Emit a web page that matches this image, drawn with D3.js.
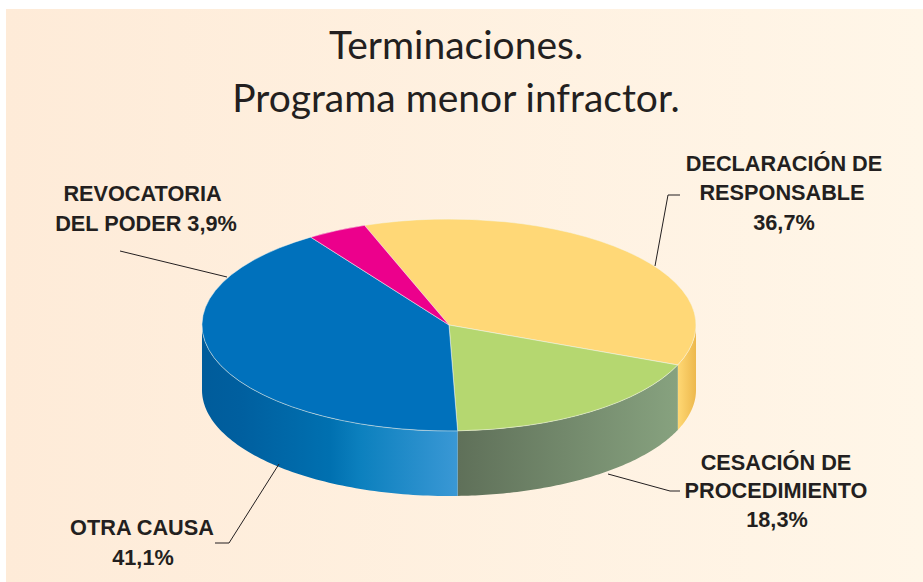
<!DOCTYPE html>
<html>
<head>
<meta charset="utf-8">
<script src="https://cdn.jsdelivr.net/npm/d3@7/dist/d3.min.js"></script>
<style>
html,body{margin:0;padding:0;background:#fff}
svg{display:block}
</style>
</head>
<body>
<script>
const categories = ["DECLARACIÓN DE RESPONSABLE", "CESACIÓN DE PROCEDIMIENTO", "OTRA CAUSA", "REVOCATORIA DEL PODER"];
const values = [36.7, 18.3, 41.1, 3.9];
const topColors = ["#FFD877", "#B5D770", "#0071BC", "#EC008C"];
const wallStops = [
  [["0%", "#FFD874"], ["100%", "#EDB84C"]],
  [["0%", "#5F7059"], ["100%", "#87A27F"]],
  [["0%", "#005C9B"], ["15%", "#005F9F"], ["50%", "#0070B0"], ["62%", "#0C80BE"], ["100%", "#3A98D5"]],
  [["0%", "#EC008C"], ["100%", "#EC008C"]]
];
const titleLines = ["Terminaciones.", "Programa menor infractor."];
const labels = [
  {lines: ["DECLARACIÓN DE", "RESPONSABLE", "36,7%"], x: [784, 782, 784], y: [171, 200, 230]},
  {lines: ["CESACIÓN DE", "PROCEDIMIENTO", "18,3%"], x: [776, 776, 777], y: [470, 498, 527]},
  {lines: ["OTRA CAUSA", "41,1%"], x: [142, 143], y: [535, 565]},
  {lines: ["REVOCATORIA", "DEL PODER 3,9%"], x: [142.5, 146], y: [201, 231]}
];
const leaders = [
  [[655, 266], [668, 195], [680, 195]],
  [[608, 474], [670, 491], [680, 491]],
  [[279, 464], [229, 543], [215, 543]],
  [[227, 277], [120, 251]]
];

const W = 923, H = 582;
const cx = 449, cy = 325, rx = 247, ry = 106, depth = 65;
const startDeg = 340;

const svg = d3.select("body").append("svg").attr("width", W).attr("height", H);
const defs = svg.append("defs");

const bg = defs.append("linearGradient").attr("id", "bg");
bg.append("stop").attr("offset", "0%").attr("stop-color", "#FEEBD8");
bg.append("stop").attr("offset", "100%").attr("stop-color", "#FFF6E8");
svg.append("rect").attr("x", 6).attr("y", 9).attr("width", W - 6).attr("height", H - 9).attr("fill", "url(#bg)");

const pie = d3.pie().sort(null).value(d => d)
  .startAngle(startDeg * Math.PI / 180)
  .endAngle((startDeg + 360) * Math.PI / 180);
const arcs = pie(values);

const px = a => cx + rx * Math.sin(a);
const py = a => cy - ry * Math.cos(a);
const HALF = Math.PI / 2;

function visibleRanges(a0, a1) {
  const out = [];
  for (const k of [-1, 0, 1]) {
    const lo = HALF + k * 2 * Math.PI, hi = 3 * HALF + k * 2 * Math.PI;
    const s = Math.max(a0, lo), e = Math.min(a1, hi);
    if (e > s) out.push([s, e]);
  }
  return out;
}

const walls = svg.append("g");
arcs.forEach((d, i) => {
  visibleRanges(d.startAngle, d.endAngle).forEach((r, j) => {
    const [s, e] = r;
    const n = 80;
    const ang = d3.range(n + 1).map(t => s + (e - s) * t / n);
    const top = ang.map(a => [px(a), py(a)]);
    const bottom = ang.slice().reverse().map(a => [px(a), py(a) + depth]);
    const id = "wall" + i + "_" + j;
    const xs = top.map(p => p[0]);
    const g = defs.append("linearGradient").attr("id", id)
      .attr("gradientUnits", "userSpaceOnUse")
      .attr("x1", d3.min(xs)).attr("x2", d3.max(xs)).attr("y1", 0).attr("y2", 0);
    wallStops[i].forEach(st => g.append("stop").attr("offset", st[0]).attr("stop-color", st[1]));
    walls.append("path")
      .attr("d", d3.line()(top.concat(bottom)) + "Z")
      .attr("fill", `url(#${id})`);
  });
});

const arc = d3.arc().innerRadius(0).outerRadius(1);
svg.append("g")
  .attr("transform", `translate(${cx},${cy}) scale(${rx},${ry})`)
  .selectAll("path").data(arcs).join("path")
  .attr("d", arc)
  .attr("fill", (d, i) => topColors[i])
  .attr("stroke", "#F4F7EE")
  .attr("stroke-width", 0.5)
  .attr("vector-effect", "non-scaling-stroke");

svg.append("g").selectAll("path").data(leaders).join("path")
  .attr("d", d => d3.line()(d))
  .attr("fill", "none").attr("stroke", "#231F20").attr("stroke-width", 1);

svg.append("g").selectAll("text").data(titleLines).join("text")
  .attr("x", 456).attr("y", (d, i) => [59, 112][i])
  .attr("text-anchor", "middle")
  .attr("font-family", "Lato, sans-serif")
  .attr("font-size", 39)
  .attr("fill", "#231F20")
  .text(d => d);

const lab = svg.append("g")
  .attr("font-family", "'Liberation Sans', Arial, sans-serif")
  .attr("font-weight", "bold").attr("font-size", 21.7)
  .attr("fill", "#231F20").attr("text-anchor", "middle");
labels.forEach(l => {
  l.lines.forEach((t, i) => lab.append("text").attr("x", l.x[i]).attr("y", l.y[i]).text(t));
});
</script>
</body>
</html>
